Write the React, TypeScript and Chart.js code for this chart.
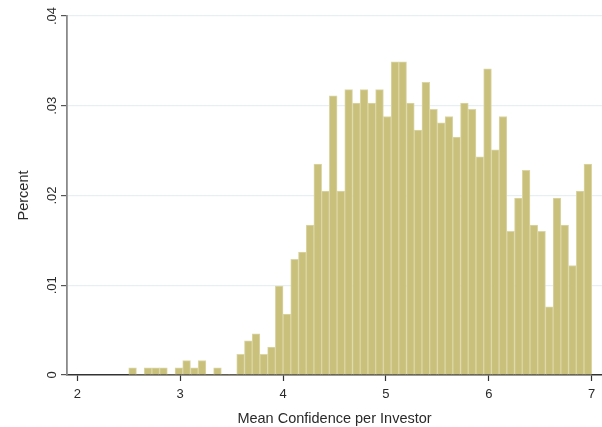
import React, { useEffect, useRef } from "react";
import { Chart, registerables } from "chart.js";

Chart.register(...registerables);

// Histogram: 60 bins of width 0.075 starting at 2.5
const BIN_START = 2.5;
const BIN_WIDTH = 0.075;
const PERCENT_VALUES: number[] = [
  0.0008, 0, 0.0008, 0.0008, 0.0008, 0, 0.0008, 0.0016, 0.0008, 0.0016, 0, 0.0008, 0, 0,
  0.0023, 0.0038, 0.0046, 0.0023, 0.0031, 0.0099, 0.0068, 0.0129, 0.0137, 0.0167,
  0.0235, 0.0205, 0.0311, 0.0205, 0.0318, 0.0303, 0.0318, 0.0303, 0.0318, 0.0288,
  0.0349, 0.0349, 0.0303, 0.0273,
  0.0326, 0.0296, 0.0281, 0.0288, 0.0265, 0.0303, 0.0296, 0.0243, 0.0341, 0.0251,
  0.0288, 0.0160, 0.0197, 0.0228, 0.0167, 0.0160, 0.0076, 0.0197, 0.0167, 0.0122,
  0.0205, 0.0235,
];
const X_TICKS: number[] = [2, 3, 4, 5, 6, 7];
const Y_TICK_LABELS: string[] = ["0", ".01", ".02", ".03", ".04"];
const X_TITLE = "Mean Confidence per Investor";
const Y_TITLE = "Percent";

const FONT = "'Liberation Sans', Arial, Helvetica, sans-serif";

export default function App() {
  const ref = useRef<HTMLCanvasElement | null>(null);

  useEffect(() => {
    document.body.style.margin = "0";
    const canvas = ref.current;
    if (!canvas) return;
    const data = PERCENT_VALUES.map((v, i) => ({
      x: BIN_START + BIN_WIDTH * (i + 0.5),
      y: v,
    }));
    const chart = new Chart(canvas, {
      type: "bar",
      data: {
        datasets: [
          {
            data: data as any,
            backgroundColor: "#c8c07b",
            borderColor: "#dcd6a6",
            borderWidth: (ctx: any) => ((ctx.raw && ctx.raw.y > 0) ? 1 : 0),
            borderSkipped: "start",
            barPercentage: 1,
            categoryPercentage: 1,
          } as any,
        ],
      },
      options: {
        animation: false,
        responsive: false,
        devicePixelRatio: 1,
        layout: { padding: { top: 16, right: 0, left: 0, bottom: 0 } },
        plugins: {
          legend: { display: false },
          tooltip: { enabled: false },
        },
        scales: {
          x: {
            type: "linear",
            min: 1.9,
            max: 7.1,
            offset: false,
            afterBuildTicks: (scale: any) => {
              scale.ticks = X_TICKS.map((v) => ({ value: v }));
            },
            afterFit: (scale: any) => {
              scale.height = 52;
            },
            grid: {
              offset: false,
              drawOnChartArea: false,
              drawTicks: true,
              tickLength: 6,
              tickColor: "#333333",
              tickWidth: 1.2,
            },
            border: { color: "#333333", width: 1.5 },
            ticks: {
              font: { family: FONT, size: 13 },
              color: "#2a2a2a",
              padding: 6,
              maxRotation: 0,
              callback: (v: any) => String(v),
            },
            title: {
              display: true,
              text: X_TITLE,
              font: { family: FONT, size: 14.5, lineHeight: 1.05 },
              color: "#2a2a2a",
              padding: { top: 0, bottom: 0 },
            },
          },
          y: {
            type: "linear",
            min: 0,
            max: 0.04,
            afterBuildTicks: (scale: any) => {
              scale.ticks = Y_TICK_LABELS.map((_, i) => ({ value: i * 0.01 }));
            },
            afterFit: (scale: any) => {
              scale.width = 67;
            },
            grid: {
              color: (ctx: any) =>
                ctx.tick && ctx.tick.value === 0 ? "rgba(0,0,0,0)" : "#e6eff1",
              lineWidth: 1.2,
              tickLength: 6,
              tickColor: "#555555",
              tickWidth: 1.2,
            },
            border: { color: "#8a8a8a", width: 1.8 },
            ticks: {
              font: { family: FONT, size: 13 },
              color: "#2a2a2a",
              padding: 0,
              minRotation: 90,
              maxRotation: 90,
              crossAlign: "center",
              callback: (_v: any, i: number) => Y_TICK_LABELS[i],
            },
            title: {
              display: true,
              text: Y_TITLE,
              font: { family: FONT, size: 14.5 },
              color: "#2a2a2a",
              padding: { top: 15, bottom: 0 },
            },
          },
        },
      } as any,
    });
    return () => chart.destroy();
  }, []);

  return (
    <div style={{ position: "fixed", left: 0, top: 0, width: 602, height: 427, background: "#ffffff" }}>
      <canvas ref={ref} width={602} height={427} />
    </div>
  );
}
